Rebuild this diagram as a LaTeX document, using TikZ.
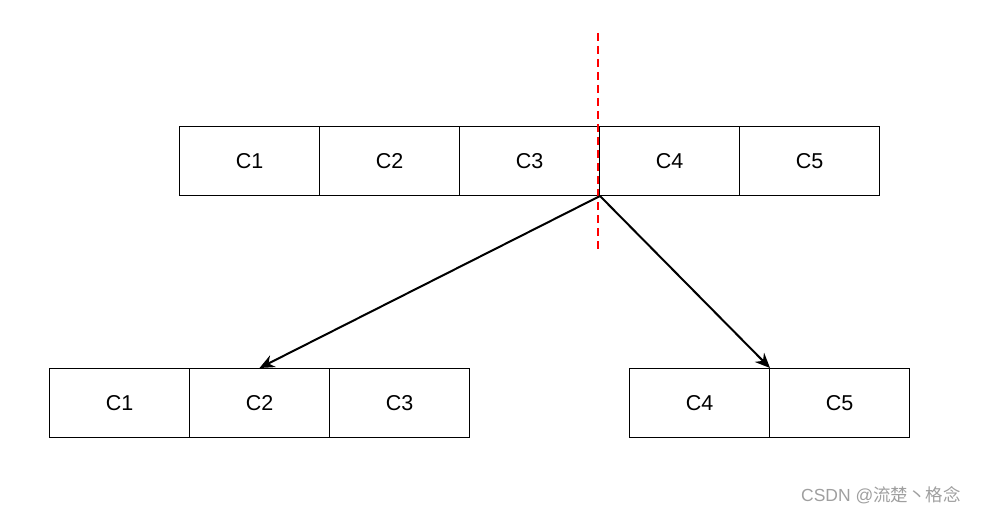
\documentclass[tikz,border=0pt]{standalone}
\usepackage{fontspec}
\setmainfont{Liberation Sans}
\newfontfamily\cjk{Noto Sans CJK SC}
\usetikzlibrary{arrows.meta}
\begin{document}
\begin{tikzpicture}[x=1pt,y=-1pt,
  cell/.style={draw=black,line width=1pt,minimum width=140pt,minimum height=69pt,inner sep=0pt,anchor=north west,font=\fontsize{21.5}{24}\selectfont},
  link/.style={line width=2pt,-{Stealth[length=15pt,width=13pt,inset=5pt]}}]
\useasboundingbox (0,0) rectangle (987,516);
% top row
\node[cell] (t1) at (179,126) {C1};
\node[cell] (t2) at (319,126) {C2};
\node[cell] (t3) at (459,126) {C3};
\node[cell] (t4) at (599,126) {C4};
\node[cell] (t5) at (739,126) {C5};
% bottom left
\node[cell] (l1) at (49,368) {C1};
\node[cell] (l2) at (189,368) {C2};
\node[cell] (l3) at (329,368) {C3};
% bottom right
\node[cell] (r4) at (629,368) {C4};
\node[cell] (r5) at (769,368) {C5};
% split line
\coordinate (cutA) at (598,33);
\coordinate (cutB) at (598,252);
\draw[red,line width=2pt,dash pattern=on 8pt off 5pt] (cutA) -- (cutB);
% arrows
\draw[link] (t3.south east) -- (l2.north);
\draw[link] (t3.south east) -- (r4.north east);
% watermark
\node[text=gray!75,font=\fontsize{17.5}{20}\selectfont] (wm) at (881,495) {CSDN @{\cjk 流楚丶格念}};
\end{tikzpicture}
\end{document}
